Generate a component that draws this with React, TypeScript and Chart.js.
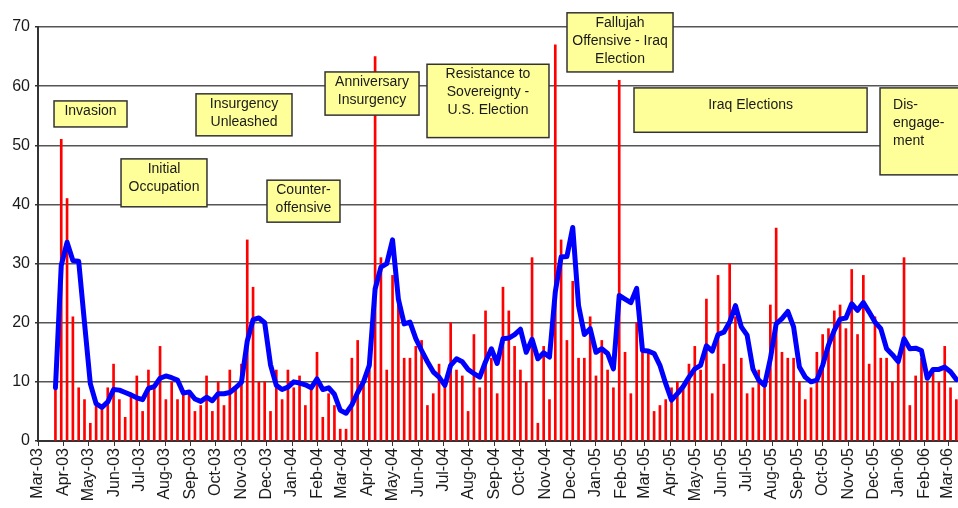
import React, { useEffect, useRef } from 'react';
import { Chart, registerables } from 'chart.js';

Chart.register(...registerables);

// Month tick labels on the x axis
const monthLabels = [
  'Mar-03', 'Apr-03', 'May-03', 'Jun-03', 'Jul-03', 'Aug-03', 'Sep-03', 'Oct-03', 'Nov-03', 'Dec-03',
  'Jan-04', 'Feb-04', 'Mar-04', 'Apr-04', 'May-04', 'Jun-04', 'Jul-04', 'Aug-04', 'Sep-04', 'Oct-04', 'Nov-04', 'Dec-04',
  'Jan-05', 'Feb-05', 'Mar-05', 'Apr-05', 'May-05', 'Jun-05', 'Jul-05', 'Aug-05', 'Sep-05', 'Oct-05', 'Nov-05', 'Dec-05',
  'Jan-06', 'Feb-06', 'Mar-06',
];

// Weekly series: first week begins 22 Mar 2003
const firstWeek = { year: 2003, month: 2, day: 22 };

// Weekly counts (red bars)
const weeklyCounts = [
  9, 51, 41, 21, 9, 7, 3, 6, 6, 9,
  13, 7, 4, 8, 11, 5, 12, 9, 16, 7,
  10, 7, 8, 8, 5, 6, 11, 5, 10, 6,
  12, 9, 13, 34, 26, 10, 10, 5, 12, 7,
  12, 9, 11, 6, 9, 15, 4, 8, 6, 2,
  2, 14, 17, 10, 12, 65, 31, 12, 28, 24,
  14, 14, 16, 17, 6, 8, 13, 10, 20, 12,
  11, 5, 18, 9, 22, 14, 8, 26, 22, 16,
  12, 10, 31, 3, 16, 7, 67, 34, 17, 27,
  14, 14, 21, 11, 17, 12, 9, 61, 15, 8,
  20, 15, 15, 5, 6, 7, 9, 10, 9, 13,
  16, 12, 24, 8, 28, 13, 30, 21, 14, 8,
  9, 12, 9, 23, 36, 15, 14, 14, 10, 7,
  9, 15, 18, 19, 22, 23, 19, 29, 18, 28,
  13, 21, 14, 14, 10, 13, 31, 6, 11, 14,
  10, 12, 10, 16, 9, 7,
];

// Smoothed trend (blue line)
const trendValues = [
  9, 29.7, 33.6, 30.5, 30.4, 20, 9.7, 6.3, 5.7, 6.6,
  8.7, 8.6, 8.2, 7.8, 7.3, 7, 8.9, 9.2, 10.6, 11,
  10.7, 10.3, 8.1, 8.3, 7.1, 6.7, 7.4, 6.8, 8, 8,
  8.2, 9, 9.9, 16.9, 20.5, 20.8, 20, 12.9, 9.4, 8.7,
  9.1, 10, 9.8, 9.5, 9, 10.5, 8.7, 9, 7.9, 5.2,
  4.7, 6.1, 8.2, 10, 12.8, 25.7, 29.4, 30, 34, 24,
  19.8, 20.1, 17.3, 15.3, 13.4, 11.7, 10.8, 9.4, 12.8, 13.9,
  13.4, 12.1, 11.4, 10.8, 13.4, 15.6, 13.1, 17.3, 17.4, 18,
  18.9, 15, 17.2, 13.9, 14.9, 14.2, 25.2, 31.1, 31.2, 36.1,
  22.9, 18, 19, 15, 15.6, 14.8, 12.2, 24.6, 24, 23.4,
  25.8, 15.3, 15.2, 14.8, 12.8, 9.7, 6.9, 8, 9.2, 10.8,
  12.2, 12.8, 16.1, 15.2, 18, 18.4, 20.1, 22.9, 19.3, 17.9,
  12.2, 10.3, 9.4, 13.9, 19.8, 20.7, 21.9, 19.3, 12.5, 10.8,
  10, 10.3, 12.8, 16.2, 18.7, 20.6, 20.8, 23.2, 22.1, 23.4,
  21.8, 20.1, 19, 15.6, 14.6, 13.4, 17.3, 15.6, 15.7, 15.3,
  10.6, 12.1, 12.1, 12.5, 11.7, 10.4,
];

// Annotation texts
const noteTexts = [
  ['Invasion'],
  ['Initial', 'Occupation'],
  ['Insurgency', 'Unleashed'],
  ['Counter-', 'offensive'],
  ['Anniversary', 'Insurgency'],
  ['Resistance to', 'Sovereignty -', 'U.S. Election'],
  ['Fallujah', 'Offensive - Iraq', 'Election'],
  ['Iraq Elections'],
  ['Dis-', 'engage-', 'ment'],
];

// Annotation placement (days since 1 Mar 2003, values)
const noteBoxes = [
  { x0: 19.3, x1: 107.2, y0: 57.5, y1: 53.1, pad: 10, align: 'center' },
  { x0: 100.0, x1: 203.5, y0: 47.7, y1: 39.6, pad: 10, align: 'center' },
  { x0: 190.3, x1: 305.9, y0: 58.7, y1: 51.6, pad: 10, align: 'center' },
  { x0: 275.8, x1: 363.7, y0: 44.1, y1: 37.0, pad: 10, align: 'center' },
  { x0: 345.7, x1: 458.9, y0: 62.4, y1: 55.1, pad: 10, align: 'center' },
  { x0: 468.5, x1: 615.4, y0: 63.7, y1: 51.3, pad: 10, align: 'center' },
  { x0: 637.1, x1: 764.8, y0: 72.4, y1: 62.4, pad: 10, align: 'center' },
  { x0: 717.8, x1: 998.5, y0: 59.7, y1: 52.2, pad: 17, align: 'center' },
  { x0: 1014.1, x1: 1113, y0: 59.7, y1: 45.0, pad: 17, align: 'left' },
];

const FONT = '"Liberation Sans", Arial, Helvetica, sans-serif';
const DAY = 86400000;
const origin = Date.UTC(2003, 2, 1);
const monthNames = ['Jan', 'Feb', 'Mar', 'Apr', 'May', 'Jun', 'Jul', 'Aug', 'Sep', 'Oct', 'Nov', 'Dec'];

const monthDays = monthLabels.map((lbl) => {
  const [m, yy] = lbl.split('-');
  return (Date.UTC(2000 + Number(yy), monthNames.indexOf(m), 1) - origin) / DAY;
});
const firstWeekDay = (Date.UTC(firstWeek.year, firstWeek.month, firstWeek.day) - origin) / DAY;
const weekDays = weeklyCounts.map((_, i) => firstWeekDay + 7 * i);

const notesPlugin = {
  id: 'notes',
  afterDatasetsDraw(chart: any) {
    const { ctx } = chart;
    const xs = chart.scales.x;
    const ys = chart.scales.y;
    ctx.save();
    noteBoxes.forEach((b, idx) => {
      const left = xs.getPixelForValue(b.x0);
      const right = xs.getPixelForValue(b.x1);
      const top = ys.getPixelForValue(b.y0);
      const bottom = ys.getPixelForValue(b.y1);
      ctx.fillStyle = '#ffff99';
      ctx.fillRect(left, top, right - left, bottom - top);
      ctx.strokeStyle = '#333333';
      ctx.lineWidth = 1.5;
      ctx.strokeRect(left, top, right - left, bottom - top);
      ctx.fillStyle = '#1a1a1a';
      ctx.font = `14px ${FONT}`;
      ctx.textBaseline = 'middle';
      noteTexts[idx].forEach((t, k) => {
        const ty = top + b.pad + k * 18;
        if (b.align === 'left') {
          ctx.textAlign = 'left';
          ctx.fillText(t, left + 13, ty);
        } else {
          ctx.textAlign = 'center';
          ctx.fillText(t, (left + right) / 2, ty);
        }
      });
    });
    ctx.restore();
  },
};

export default function App() {
  const canvasRef = useRef<HTMLCanvasElement | null>(null);

  useEffect(() => {
    if (!canvasRef.current) return;
    const chart = new Chart(canvasRef.current, {
      type: 'bar',
      data: {
        datasets: [
          {
            type: 'line',
            data: trendValues.map((v, i) => ({ x: weekDays[i], y: v })),
            borderColor: '#0000ff',
            borderWidth: 5,
            pointRadius: 0,
            tension: 0,
            borderJoinStyle: 'round',
            borderCapStyle: 'round',
            order: 0,
          } as any,
          {
            type: 'bar',
            data: weeklyCounts.map((v, i) => ({ x: weekDays[i], y: v })),
            backgroundColor: '#ff0000',
            barThickness: 2,
            order: 1,
          } as any,
        ],
      },
      options: {
        responsive: true,
        maintainAspectRatio: false,
        animation: false,
        layout: { padding: { top: 27, left: 0, right: 0, bottom: 0 } },
        plugins: {
          legend: { display: false },
          tooltip: { enabled: false },
        },
        scales: {
          x: {
            type: 'linear',
            min: 0,
            max: 1108,
            offset: false,
            afterBuildTicks: (s: any) => {
              s.ticks = monthDays.map((v) => ({ value: v }));
            },
            afterFit: (s: any) => {
              s.height = 67;
              s.paddingLeft = 0;
              s.paddingRight = 0;
            },
            ticks: {
              autoSkip: false,
              maxRotation: 90,
              minRotation: 90,
              padding: 2,
              color: '#1a1a1a',
              font: { family: FONT, size: 16 },
              callback: (_v: any, i: number) => monthLabels[i],
            },
            grid: {
              display: true,
              drawOnChartArea: false,
              drawTicks: true,
              tickLength: 5,
              tickColor: '#333333',
              offset: false,
            },
            border: { display: true, color: '#333333', width: 2 },
          },
          y: {
            min: 0,
            max: 70,
            afterFit: (s: any) => {
              s.width = 38;
            },
            ticks: {
              stepSize: 10,
              padding: 5,
              color: '#1a1a1a',
              font: { family: FONT, size: 16 },
            },
            grid: {
              color: '#555555',
              lineWidth: 1.5,
              tickLength: 3,
              tickColor: '#333333',
            },
            border: { display: true, color: '#333333', width: 2 },
          },
        },
      } as any,
      plugins: [notesPlugin],
    });
    return () => chart.destroy();
  }, []);

  return (
    <div style={{ position: 'fixed', left: 0, top: 0, width: 958, height: 508, background: '#ffffff' }}>
      <canvas ref={canvasRef} />
    </div>
  );
}
